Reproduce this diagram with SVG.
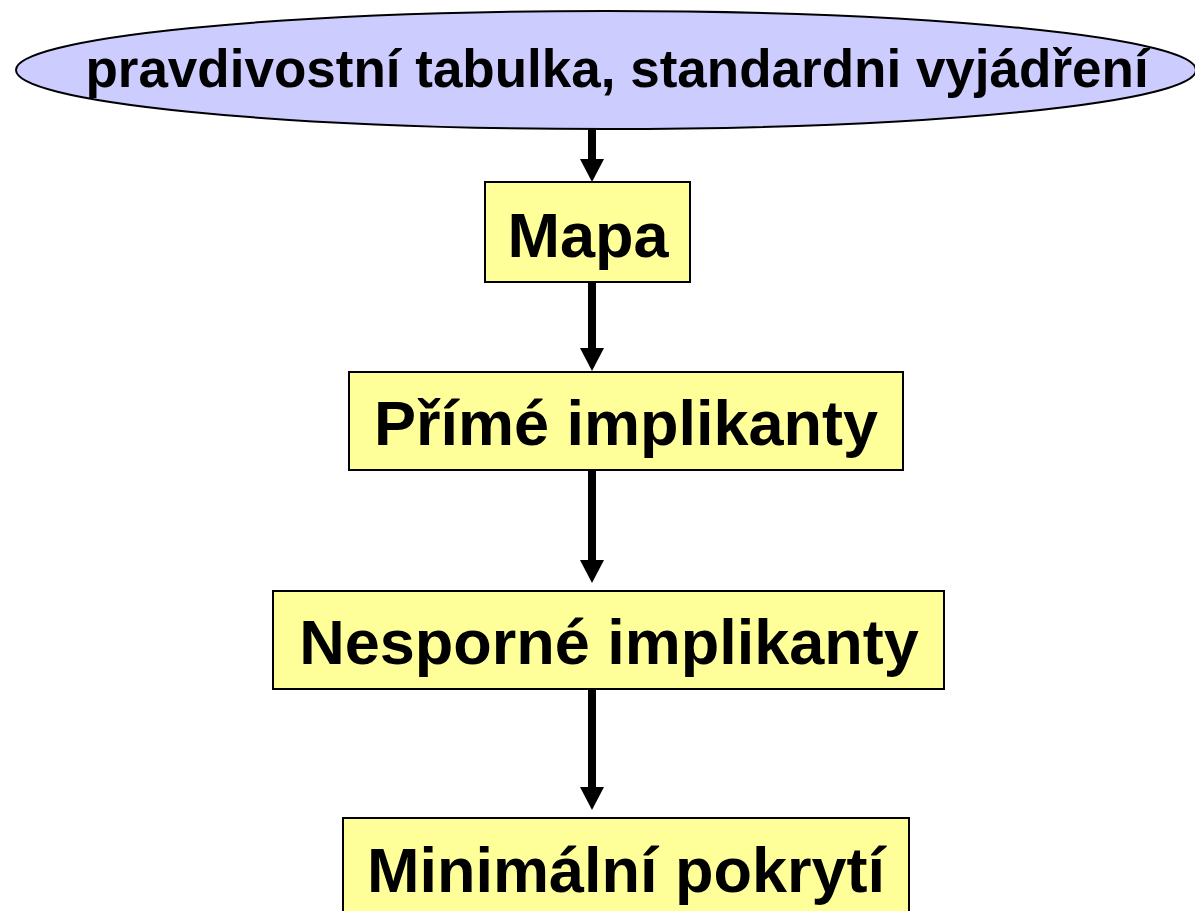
<svg xmlns="http://www.w3.org/2000/svg" width="1195" height="911" viewBox="0 0 1195 911">
  <defs>
    <style>
      .box { fill: #FFFF99; stroke: #000; stroke-width: 2; }
      .oval { fill: #CCCCFF; stroke: #000; stroke-width: 2; }
      .lbl { font-family: "Liberation Sans", Arial, sans-serif; font-weight: bold; fill: #000; text-anchor: middle; }
      .edge { stroke: #000; stroke-width: 8; fill: none; marker-end: url(#head); }
    </style>
    <!-- solid triangular arrowhead; base sits at the line end -->
    <marker id="head" markerUnits="userSpaceOnUse" markerWidth="24" markerHeight="24" viewBox="0 0 23 24" refX="0" refY="12" orient="auto">
      <path d="M0,0 L23,12 L0,24 z" fill="#000"/>
    </marker>
  </defs>
  <rect width="1195" height="911" fill="#fff"/>

  <g id="connectors">
    <line class="edge" x1="592" y1="129" x2="592" y2="159"/>
    <line class="edge" x1="592" y1="282" x2="592" y2="348"/>
    <line class="edge" x1="592" y1="470" x2="592" y2="560"/>
    <line class="edge" x1="592" y1="689" x2="592" y2="787"/>
  </g>

  <g id="start">
    <ellipse class="oval" cx="606" cy="70" rx="590" ry="59"/>
    <text class="lbl" x="617" y="87" font-size="53">pravdivostní tabulka, standardni vyjádření</text>
  </g>

  <g id="mapa">
    <rect class="box" x="485" y="182" width="205" height="100"/>
    <text class="lbl" x="588" y="257" font-size="63">Mapa</text>
  </g>

  <g id="prime-implikanty">
    <rect class="box" x="349" y="372" width="554" height="98"/>
    <text class="lbl" x="626" y="445" font-size="63">Přímé implikanty</text>
  </g>

  <g id="nesporne-implikanty">
    <rect class="box" x="273" y="591" width="671" height="98"/>
    <text class="lbl" x="609" y="664" font-size="63">Nesporné implikanty</text>
  </g>

  <g id="minimalni-pokryti">
    <rect class="box" x="343" y="818" width="566" height="110"/>
    <text class="lbl" x="626" y="892" font-size="63">Minimální pokrytí</text>
  </g>
</svg>
